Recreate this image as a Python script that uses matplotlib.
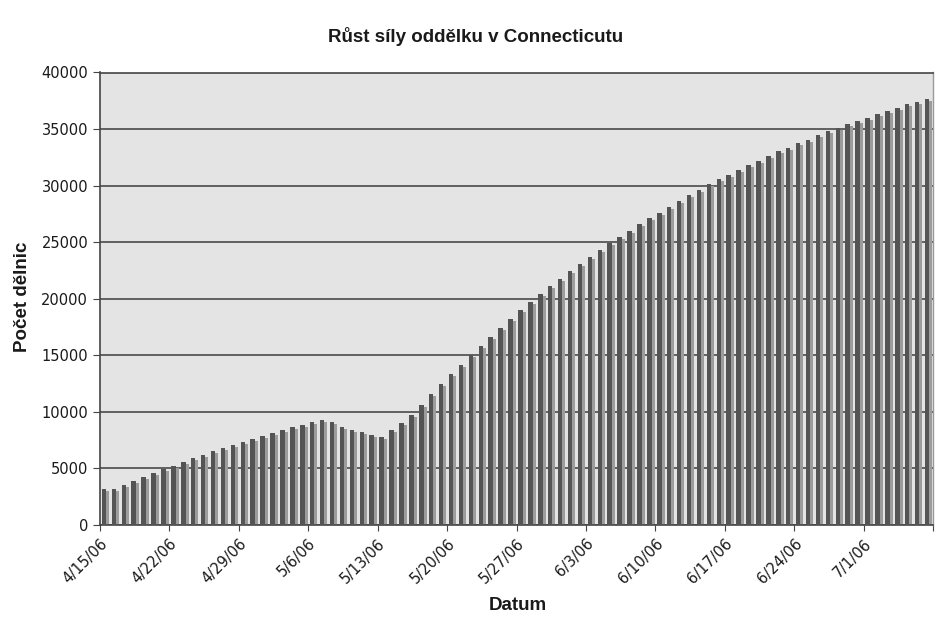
import matplotlib
matplotlib.use("Agg")
import matplotlib.pyplot as plt
import matplotlib.transforms as mtransforms
import numpy as np

# ---- data ----
tick_labels = ["4/15/06", "4/22/06", "4/29/06", "5/6/06", "5/13/06", "5/20/06",
               "5/27/06", "6/3/06", "6/10/06", "6/17/06", "6/24/06", "7/1/06", ""]
values = [3150, 3150, 3510, 3890, 4230, 4580, 4970, 5250, 5600, 5900,
          6190, 6500, 6780, 7110, 7350, 7640, 7880, 8150, 8380, 8620,
          8850, 9090, 9320, 9090, 8650, 8410, 8200, 8000, 7750, 8360,
          9040, 9740, 10620, 11560, 12440, 13350, 14180, 15000, 15850, 16650,
          17410, 18240, 19000, 19700, 20410, 21090, 21760, 22410, 23090, 23680,
          24290, 24940, 25470, 26000, 26590, 27120, 27620, 28140, 28670, 29140,
          29620, 30120, 30560, 30950, 31420, 31830, 32220, 32600, 33020, 33340,
          33730, 34050, 34440, 34790, 35120, 35440, 35740, 36010, 36360, 36630,
          36890, 37190, 37430, 37690]
title = "Růst síly oddělku v Connecticutu"
xlabel = "Datum"
ylabel = "Počet dělnic"

plt.rcParams["font.family"] = ["DejaVu Sans"]

fig = plt.figure(figsize=(9.4, 6.23), dpi=100)
ax = fig.add_axes([100/940, 1-525/623, 833/940, (525-72.5)/623])
ax.set_facecolor("#e4e4e4")

n = len(values)
x = np.arange(n)
# shadow (lighter, offset right/down)
shadow_tr = ax.transData + mtransforms.ScaledTranslation(3/100, -2/100, fig.dpi_scale_trans)
ax.bar(x + 0.40, values, width=0.46, color="#9c9c9c", linewidth=0,
       transform=shadow_tr, zorder=2)
ax.bar(x + 0.40, values, width=0.46, color="#545454", linewidth=0, zorder=3)

ax.set_xlim(0, n)
ax.set_ylim(0, 40000)
ax.set_yticks(np.arange(0, 40001, 5000))
ax.yaxis.grid(True, color="#4a4a4a", linewidth=1.2, zorder=1)
ax.set_axisbelow(True)

ax.set_xticks(np.arange(0, n + 1, 7))
ax.set_xticklabels(tick_labels, rotation=45, ha="right", rotation_mode="anchor",
                   fontsize=10.5, color="#1a1a1a")
lbl_off = mtransforms.ScaledTranslation(-8/100, -5/100, fig.dpi_scale_trans)
for lbl in ax.get_xticklabels():
    lbl.set_transform(lbl.get_transform() + lbl_off)
ax.tick_params(axis="x", length=4, color="#444444", pad=4)
ax.tick_params(axis="y", length=5, color="#444444", labelsize=10.5, labelcolor="#1a1a1a")

for s in ["left", "bottom", "top"]:
    ax.spines[s].set_color("#444444")
    ax.spines[s].set_linewidth(1.2)
ax.spines["right"].set_color("#999999")
ax.spines["right"].set_linewidth(1.0)

fig.text(476/940, 1-36/623, title, ha="center", va="center",
         fontsize=13.5, fontweight="bold", family="Liberation Sans", color="#1a1a1a")
fig.text(518/940, 1-606/623, xlabel, ha="center", va="center",
         fontsize=13.5, fontweight="bold", family="Liberation Sans", color="#1a1a1a")
fig.text(23/940, 1-297/623, ylabel, ha="center", va="center", rotation=90,
         fontsize=13.5, fontweight="bold", family="Liberation Sans", color="#1a1a1a")

fig.savefig("out.png", dpi=100, facecolor="white")
